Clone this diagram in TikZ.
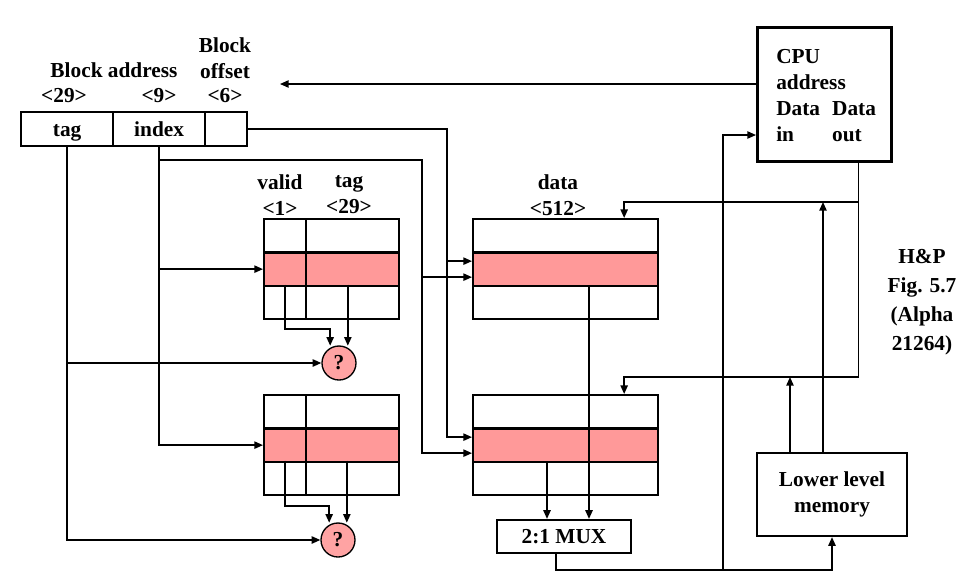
\documentclass[tikz,border=0pt]{standalone}
\usepackage{fontspec}
\setmainfont{Liberation Serif}
\usetikzlibrary{arrows.meta}
\definecolor{rowred}{HTML}{FF9999}
\definecolor{cmpred}{HTML}{FFA3A3}

\begin{document}
\begin{tikzpicture}[x=0.75pt,y=-0.75pt,
  font=\fontsize{16pt}{19.5pt}\selectfont\bfseries,
  box/.style={draw, line width=1.7pt, inner sep=0pt},
  cell/.style={box, anchor=north west, minimum height=25pt},
  field/.style={cell, minimum height=25.5pt, text height=11pt, text depth=0pt},
  cmp/.style={circle, draw, line width=1pt, fill=cmpred, minimum size=25.5pt, inner sep=0pt},
  conn/.style={line width=1.1pt, -{Triangle[length=6.5pt,width=5.5pt]}}]
\useasboundingbox (0,0) rectangle (965,583);

% address fields
\node[field, minimum width=69pt] (tagf) at (20,111) {tag};
\node[field, minimum width=69pt] (idxf) at (112,111) {index};
\node[field, minimum width=31.5pt] (offf) at (204,111) {};
\node (blkaddr) at (114,70) {Block address};
\node (tagbits) at (64,96) {<29>};
\node (idxbits) at (159,96) {<9>};
\node[align=center] (offlbl) at (225,58) {Block\\offset};
\node (offbits) at (225,96) {<6>};

% tag and data arrays, two sets
\foreach \r/\y/\c in {1/218/white,2/251.33/rowred,3/284.67/white}{
  \node[cell, fill=\c, minimum width=31.5pt] (vA\r) at (263,\y) {};
  \node[cell, fill=\c, minimum width=69.75pt] (tA\r) at (305,\y) {};
  \node[cell, fill=\c, minimum width=138.75pt] (dA\r) at (472,\y) {};
}
\foreach \r/\y/\c in {1/394/white,2/427.33/rowred,3/460.67/white}{
  \node[cell, fill=\c, minimum width=31.5pt] (vB\r) at (263,\y) {};
  \node[cell, fill=\c, minimum width=69.75pt] (tB\r) at (305,\y) {};
  \node[cell, fill=\c, minimum width=138.75pt] (dB\r) at (472,\y) {};
}
\node[align=center] (validlbl) at (280,195) {valid\\<1>};
\node[align=center] (taglbl) at (349,195) {tag\\<29>};
\node[align=center] (datalbl) at (558,195) {data\\<512>};

\node[cmp] (cmpA) at (339,363) {?};
\node[cmp] (cmpB) at (338,540) {?};
\node[box, minimum width=100.5pt, minimum height=24.75pt] (mux) at (564,536.5) {2:1 MUX};
\node[box, minimum width=112.5pt, minimum height=62.25pt, align=center] (mem) at (832,494.5) {Lower level\\memory};

% cpu
\node[box, line width=1.9pt, anchor=north west, minimum width=100.5pt, minimum height=100.5pt] (cpu) at (756,26) {};
\node[anchor=west, inner sep=0pt] (cpulbl) at (776,97) {\begin{tabular}{@{}l@{\hspace{9pt}}l@{}}
  \multicolumn{2}{@{}l@{}}{CPU}\\
  \multicolumn{2}{@{}l@{}}{address}\\
  Data & Data\\
  in & out
\end{tabular}};
\node[align=center] (hpnote) at (922,302) {H\&P\\[2.3pt]Fig. 5.7\\[2.3pt](Alpha\\[2.3pt]21264)};

% helper points
\coordinate (addrend) at (280,84);
\coordinate (idxrow) at (0,160);
\coordinate (inrow) at (0,135);
\coordinate (outrow) at (0,570);
\coordinate (fillrowA) at (0,202);
\coordinate (fillrowB) at (0,377);
\coordinate (offx) at (447,0);
\coordinate (idxx) at (422,0);
\coordinate (dinx) at (723,0);
\coordinate (dA2hi) at ([yshift=6pt]dA2.west);
\coordinate (dA2lo) at ([yshift=-6pt]dA2.west);
\coordinate (dB2hi) at ([yshift=6pt]dB2.west);
\coordinate (dB2lo) at ([yshift=-6pt]dB2.west);
\coordinate (muxinL) at ([xshift=-12.75pt]mux.north);
\coordinate (muxinR) at ([xshift=18.75pt]mux.north);
\coordinate (muxout) at ([xshift=-6pt]mux.south);
\coordinate (cpuout) at ([xshift=25.5pt]cpu.south);
\coordinate (fillA) at ([xshift=43.9pt]dA1.north);
\coordinate (fillB) at ([xshift=43.9pt]dB1.north);
\coordinate (memupA) at ([xshift=-31.5pt]mem.north);
\coordinate (memupB) at ([xshift=-6.75pt]mem.north);

% address from cpu
\draw[conn] (cpu.west |- addrend) -- (addrend);
% offset
\draw[conn] (offf.east) -| (offx |- dB2hi) -- (dB2hi);
\draw[conn] (offx |- dA2hi) -- (dA2hi);
% index
\draw[conn] (idxf.south) |- (vB2.west);
\draw[conn] (idxf.south |- vA2.west) -- (vA2.west);
\draw[conn] (idxf.south |- idxrow) -| (idxx |- dB2lo) -- (dB2lo);
\draw[conn] (idxx |- dA2lo) -- (dA2lo);
% tag compare
\draw[conn] (tagf.south) |- (cmpB.west);
\draw[conn] (tagf.south |- cmpA.west) -- (cmpA.west);
\foreach \s in {A,B}{
  \draw[conn, shorten >=1.5pt] (v\s3.north) |- ([yshift=14pt]cmp\s.120) -- (cmp\s.120);
  \draw[conn, shorten >=1.5pt] (cmp\s.60 |- t\s3.north) -- (cmp\s.60);
}
% data to mux, mux out
\draw[conn] (muxinR |- dA2.south) -- (muxinR);
\draw[conn] (muxinL |- dB2.south) -- (muxinL);
\draw[conn] (muxout) |- (mem.south |- outrow) -- (mem.south);
\draw[conn] (dinx |- outrow) |- (cpu.west |- inrow);
% refill paths
\draw[conn] (cpuout) |- (fillB |- fillrowB) -- (fillB);
\draw[conn] (cpuout |- fillrowA) -| (fillA);
\draw[conn] (memupA) -- (memupA |- fillrowB);
\draw[conn] (memupB) -- (memupB |- fillrowA);
\end{tikzpicture}
\end{document}
